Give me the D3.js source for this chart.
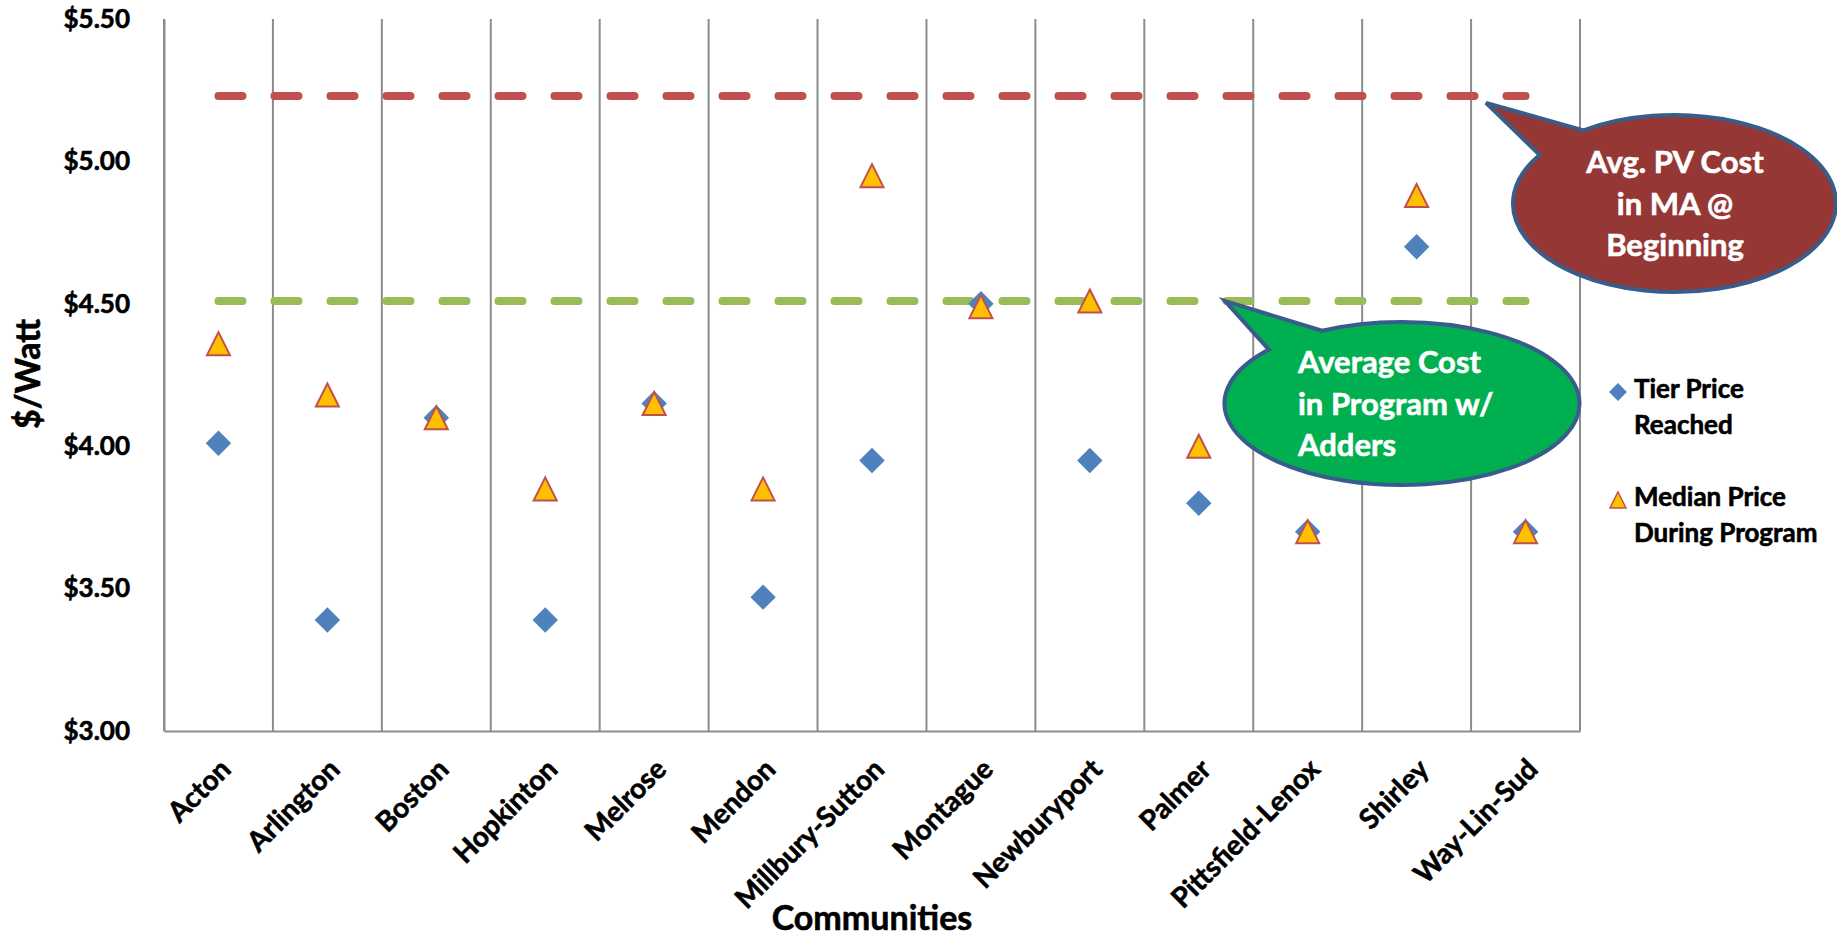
<!DOCTYPE html>
<html>
<head>
<meta charset="utf-8">
<script src="https://cdn.jsdelivr.net/npm/d3@7"></script>
<style>
  body { margin: 0; background: #fff; }
  svg { display: block; }
  text { font-family: Lato, "Open Sans", sans-serif; font-weight: 700; fill: #000; stroke: #000; stroke-width: 0.6px; }
  text.light { fill: #fff; stroke: #fff; }
</style>
</head>
<body>
<svg id="chart" width="1837" height="938"></svg>
<script>
// Communities in the solarize program
const communities = ["Acton", "Arlington", "Boston", "Hopkinton", "Melrose", "Mendon",
  "Millbury-Sutton", "Montague", "Newburyport", "Palmer", "Pittsfield-Lenox", "Shirley", "Way-Lin-Sud"];

// $/Watt values per community
const tierPrice   = [4.01, 3.39, 4.10, 3.39, 4.15, 3.47, 3.95, 4.50, 3.95, 3.80, 3.70, 4.70, 3.70];
const medianPrice = [4.36, 4.18, 4.10, 3.85, 4.15, 3.85, 4.95, 4.49, 4.51, 4.00, 3.70, 4.88, 3.70];

// Reference levels drawn across all communities
const maStartCost = 5.23;     // average PV cost in MA at the beginning
const programAvgCost = 4.51;  // average cost in program with adders

const yTicks = [3.00, 3.50, 4.00, 4.50, 5.00, 5.50];
const legendTier = ["Tier Price", "Reached"];
const legendMedian = ["Median Price", "During Program"];
const calloutMA = ["Avg. PV Cost", "in MA @", "Beginning"];
const calloutProgram = ["Average Cost", "in Program w/", "Adders"];

const svg = d3.select("#chart");
const plot = { left: 164, right: 1580, top: 19, bottom: 731 };

const x = d3.scaleBand().domain(communities).range([plot.left, plot.right]);
const y = d3.scaleLinear().domain([3.0, 5.5]).range([plot.bottom, plot.top]);
const cx = d => x(d) + x.bandwidth() / 2;

const gridColor = "#8c8c8c";

// Vertical gridlines between categories
const bounds = d3.range(communities.length + 1).map(i => plot.left + i * x.step());
svg.append("g").selectAll("line").data(bounds).join("line")
  .attr("x1", d => d).attr("x2", d => d)
  .attr("y1", y(5.5)).attr("y2", y(3.0))
  .attr("stroke", gridColor).attr("stroke-width", 2);

// Y axis
const yAxis = svg.append("g").attr("transform", `translate(${plot.left},0)`)
  .call(d3.axisLeft(y).tickValues(yTicks).tickFormat(d => "$" + d.toFixed(2)).tickSize(0).tickPadding(34));
yAxis.select(".domain").attr("stroke", gridColor).attr("stroke-width", 2);
yAxis.selectAll("text").style("font-size", "26px").style("font-family", "Lato, sans-serif")
  .attr("fill", "#000");

// X axis with slanted community names
const xAxis = svg.append("g").attr("transform", `translate(0,${plot.bottom})`)
  .call(d3.axisBottom(x).tickSize(0));
xAxis.select(".domain").attr("stroke", gridColor).attr("stroke-width", 2);
xAxis.selectAll("text")
  .attr("x", 0).attr("y", 0).attr("dy", 0)
  .attr("transform", "translate(14,40) rotate(-45)")
  .style("text-anchor", "end").style("font-size", "28px").style("font-family", "Lato, sans-serif")
  .attr("fill", "#000");

// Axis titles
svg.append("text").attr("transform", "translate(40,374) rotate(-90)")
  .attr("text-anchor", "middle").style("font-size", "34px").text("$/Watt");
svg.append("text").attr("x", (plot.left + plot.right) / 2).attr("y", 930)
  .attr("text-anchor", "middle").style("font-size", "34px").text("Communities");

// Dashed reference lines
const refLine = v => d3.line().x(d => cx(d)).y(() => y(v))(communities);
[[maStartCost, "#C0504D"], [programAvgCost, "#9BBB59"]].forEach(([v, c]) => {
  svg.append("path").attr("d", refLine(v)).attr("fill", "none")
    .attr("stroke", c).attr("stroke-width", 8).attr("stroke-linecap", "round")
    .attr("stroke-dasharray", "24,32");
});

// Marker shapes
const diamond = d3.symbol(d3.symbolSquare, 324);
const isoTriangle = {
  draw(ctx, size) {
    const h = Math.sqrt(size) / 2;
    ctx.moveTo(0, -h); ctx.lineTo(h, h); ctx.lineTo(-h, h); ctx.closePath();
  }
};
const triangle = d3.symbol(isoTriangle, 529);

svg.append("g").selectAll("path").data(communities).join("path")
  .attr("d", diamond)
  .attr("transform", (d, i) => `translate(${cx(d)},${y(tierPrice[i])}) rotate(45)`)
  .attr("fill", "#4F81BD");

svg.append("g").selectAll("path").data(communities).join("path")
  .attr("d", triangle)
  .attr("transform", (d, i) => `translate(${cx(d)},${y(medianPrice[i])})`)
  .attr("fill", "#FFC000").attr("stroke", "#C0504D").attr("stroke-width", 2);

// Legend
const legend = svg.append("g");
legend.append("path").attr("d", d3.symbol(d3.symbolSquare, 160))
  .attr("transform", "translate(1618,392) rotate(45)").attr("fill", "#4F81BD");
legend.append("path").attr("d", d3.symbol(isoTriangle, 256))
  .attr("transform", "translate(1618,500)")
  .attr("fill", "#FFC000").attr("stroke", "#C0504D").attr("stroke-width", 1.5);
[[legendTier, 398], [legendMedian, 506]].forEach(([lines, y0]) => {
  lines.forEach((t, k) => legend.append("text").attr("x", 1634).attr("y", y0 + k * 36)
    .style("font-size", "26px").text(t));
});

// Ellipse callouts with a pointer wedge
function callout(spec) {
  const { ex, ey, rx, ry, tip, a1, a2, fill } = spec;
  const pt = a => [ex + rx * Math.cos(a * Math.PI / 180), ey + ry * Math.sin(a * Math.PI / 180)];
  const p1 = pt(a1), p2 = pt(a2);
  const d = `M${p1}L${tip}L${p2}A${rx},${ry} 0 1 0 ${p1}Z`;
  svg.append("path").attr("d", d).attr("fill", fill)
    .attr("stroke", "#385D8A").attr("stroke-width", 4).attr("stroke-linejoin", "miter");
}

callout({ ex: 1674.5, ey: 203.5, rx: 161.5, ry: 88.5, tip: [1486, y(maStartCost) + 7],
  a1: -124.3, a2: -146.7, fill: "#953735" });
calloutMA.forEach((t, k) => svg.append("text").attr("class", "light")
  .attr("x", 1675).attr("y", 173 + k * 41.7)
  .attr("text-anchor", "middle").style("font-size", "31px").text(t));

callout({ ex: 1402, ey: 403.5, rx: 177.5, ry: 81.5, tip: [1225, y(programAvgCost)],
  a1: -116.8, a2: -138.6, fill: "#00B050" });
calloutProgram.forEach((t, k) => svg.append("text").attr("class", "light")
  .attr("x", 1298).attr("y", 373 + k * 41.7)
  .style("font-size", "31px").text(t));
</script>
</body>
</html>
